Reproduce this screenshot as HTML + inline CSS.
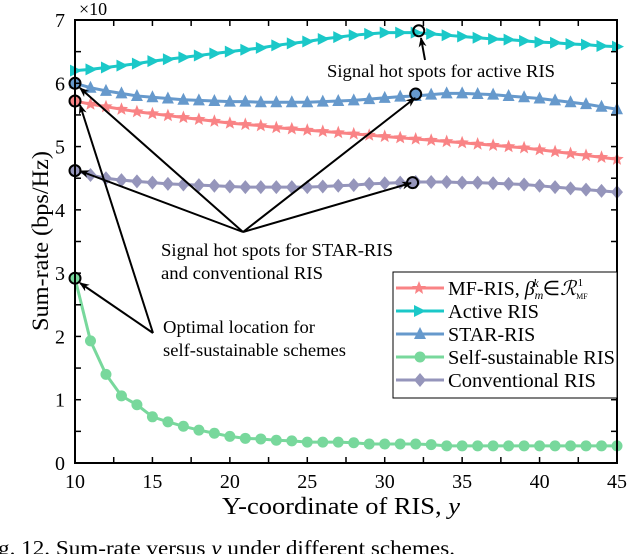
<!DOCTYPE html>
<html><head><meta charset="utf-8"><style>
html,body{margin:0;padding:0;background:#fff;width:628px;height:554px;overflow:hidden}
svg{display:block;font-family:"Liberation Serif",serif}
</style></head><body>
<svg id="chart" width="628" height="554" viewBox="0 0 628 554" xmlns="http://www.w3.org/2000/svg">
<defs><marker id="ah" markerWidth="10" markerHeight="8" refX="9" refY="4" orient="auto" markerUnits="userSpaceOnUse"><path d="M0,0 L10,4 L0,8 L3,4 Z" fill="#000"/></marker></defs>
<g id="grid"></g>
<g id="series"></g>
<g id="annot"></g>
<g id="axes"></g>
</svg>
<script>
const xVals=[10,11,12,13,14,15,16,17,18,19,20,21,22,23,24,25,26,27,28,29,30,31,32,33,34,35,36,37,38,39,40,41,42,43,44,45];
const activeRIS=[6.2,6.22,6.25,6.28,6.31,6.35,6.38,6.41,6.44,6.47,6.5,6.53,6.56,6.6,6.63,6.66,6.7,6.73,6.76,6.78,6.8,6.8,6.8,6.78,6.76,6.74,6.72,6.7,6.69,6.67,6.65,6.64,6.62,6.61,6.59,6.58];
const starRIS=[6.0,5.93,5.88,5.84,5.8,5.78,5.76,5.74,5.73,5.72,5.71,5.71,5.7,5.7,5.7,5.7,5.71,5.72,5.73,5.75,5.77,5.79,5.8,5.82,5.84,5.84,5.83,5.82,5.8,5.78,5.76,5.73,5.7,5.67,5.63,5.59];
const mfRIS=[5.72,5.67,5.63,5.59,5.55,5.52,5.49,5.46,5.43,5.4,5.37,5.35,5.33,5.3,5.28,5.26,5.24,5.22,5.2,5.18,5.16,5.14,5.12,5.1,5.08,5.06,5.04,5.02,5.0,4.98,4.95,4.92,4.89,4.86,4.83,4.8];
const convRIS=[4.62,4.55,4.5,4.47,4.45,4.43,4.41,4.4,4.39,4.38,4.37,4.36,4.36,4.36,4.36,4.36,4.37,4.38,4.39,4.41,4.42,4.43,4.44,4.44,4.44,4.43,4.43,4.42,4.41,4.4,4.38,4.36,4.34,4.32,4.3,4.28];
const selfRIS=[2.92,1.93,1.4,1.06,0.92,0.73,0.65,0.58,0.52,0.47,0.42,0.39,0.38,0.36,0.35,0.33,0.33,0.33,0.32,0.3,0.3,0.3,0.3,0.29,0.27,0.27,0.27,0.27,0.27,0.27,0.27,0.27,0.27,0.27,0.27,0.27];
const xTicks=[10,15,20,25,30,35,40,45];
const yTicks=[0,1,2,3,4,5,6,7];

const L=75,R=617,T=20,B=463;
const X=v=>L+(v-10)/35*(R-L);
const Y=v=>B-(v/7)*(B-T);
const NS="http://www.w3.org/2000/svg";
function mk(tag,attrs,parent){const e=document.createElementNS(NS,tag);for(const k in attrs)e.setAttribute(k,attrs[k]);parent.appendChild(e);return e;}
const sg=document.getElementById('series'),ax=document.getElementById('axes'),an=document.getElementById('annot');

function marker(type,x,y,color,g){
  let e;
  if(type==='tri-right'){e=mk('path',{d:`M${x-5},${y-6} L${x+7},${y} L${x-5},${y+6} Z`,fill:color},g);}
  else if(type==='tri-up'){e=mk('path',{d:`M${x},${y-7} L${x+6},${y+5} L${x-6},${y+5} Z`,fill:color},g);}
  else if(type==='circle'){e=mk('circle',{cx:x,cy:y,r:5.5,fill:color},g);}
  else if(type==='diamond'){e=mk('path',{d:`M${x},${y-7} L${x+6},${y} L${x},${y+7} L${x-6},${y} Z`,fill:color},g);}
  else {let p='';for(let i=0;i<10;i++){const a=-Math.PI/2+i*Math.PI/5;const r=i%2?3:7;p+=(i?'L':'M')+(x+r*Math.cos(a)).toFixed(1)+','+(y+r*Math.sin(a)).toFixed(1);}e=mk('path',{d:p+'Z',fill:color},g);}
  return e;
}
const series=[
 {name:'mf-ris-series',data:mfRIS,color:'#f98385',m:'star'},
 {name:'active-ris-series',data:activeRIS,color:'#1bc8c8',m:'tri-right'},
 {name:'star-ris-series',data:starRIS,color:'#6699cc',m:'tri-up'},
 {name:'self-sustainable-ris-series',data:selfRIS,color:'#78d89c',m:'circle'},
 {name:'conventional-ris-series',data:convRIS,color:'#9595bb',m:'diamond'}
];
series.forEach(s=>{
  const g=mk('g',{},sg);
  
  
  const pl=mk('polyline',{points:s.data.map((v,i)=>X(xVals[i])+','+Y(v)).join(' '),fill:'none',stroke:s.color,'stroke-width':3},g);
  
  
  s.data.forEach((v,i)=>{const e=marker(s.m,X(xVals[i]),Y(v),s.color,g);
    
    });
});

const box=mk('rect',{x:L,y:T,width:R-L,height:B-T,fill:'none',stroke:'#000','stroke-width':2},ax);


for(let v=10;v<=45;v+=2.5){const x=X(v);
  mk('line',{x1:x,y1:B,x2:x,y2:B-6,stroke:'#000','stroke-width':1.5},ax);
  mk('line',{x1:x,y1:T,x2:x,y2:T+6,stroke:'#000','stroke-width':1.5},ax);}
for(let v=0;v<=7;v+=0.5){const y=Y(v);
  mk('line',{x1:L,y1:y,x2:L+6,y2:y,stroke:'#000','stroke-width':1.5},ax);
  mk('line',{x1:R,y1:y,x2:R-6,y2:y,stroke:'#000','stroke-width':1.5},ax);}
xTicks.forEach(v=>{const t=mk('text',{x:X(v),y:B+25,'text-anchor':'middle','font-size':20},ax);t.textContent=v;
  
  });
yTicks.forEach(v=>{const t=mk('text',{x:L-10,y:Y(v)+7,'text-anchor':'end','font-size':20},ax);t.textContent=v;
  
  });

const circles=[[10,6.0,'#6699cc'],[10,5.72,'#f98385'],[10,4.62,'#9595bb'],[10,2.92,'#78d89c'],[32.2,6.83,'none'],[32,5.83,'#6699cc'],[31.8,4.43,'#9595bb']];
circles.forEach(c=>{const e=mk('circle',{cx:X(c[0]),cy:Y(c[1]),r:5.5,fill:c[2],stroke:'#000','stroke-width':2},an);
  
  });
const arrows=[[243,232,80,88],[243,232,80,171],[243,232,415,98],[243,232,411,183],[153,333,80,105],[153,333,80,283],[425,60,421,38]];
arrows.forEach(a=>{const e=mk('line',{x1:a[0],y1:a[1],x2:a[2],y2:a[3],stroke:'#000','stroke-width':2,'marker-end':'url(#ah)'},an);
  
  });
</script>
<svg style="position:absolute;left:0;top:0" width="628" height="554" xmlns="http://www.w3.org/2000/svg" font-family="Liberation Serif, serif">
<text x="79" y="15" font-size="18">×10</text>
<text transform="translate(48,241) rotate(-90)" text-anchor="middle" font-size="23" textLength="180" lengthAdjust="spacingAndGlyphs">Sum-rate (bps/Hz)</text>
<text x="222" y="514" font-size="24" textLength="238" lengthAdjust="spacingAndGlyphs">Y-coordinate of RIS, <tspan font-style="italic">y</tspan></text>
<text x="-2" y="555" font-size="21" textLength="457" lengthAdjust="spacingAndGlyphs">g. 12.  Sum-rate versus <tspan font-style="italic">y</tspan> under different schemes.</text>
<text x="327" y="77" font-size="18" textLength="228" lengthAdjust="spacingAndGlyphs">Signal hot spots for active RIS</text>
<text font-size="18"><tspan x="161" y="256" textLength="232" lengthAdjust="spacingAndGlyphs">Signal hot spots for STAR-RIS</tspan><tspan x="161" y="279" textLength="162" lengthAdjust="spacingAndGlyphs">and conventional RIS</tspan></text>
<text font-size="18"><tspan x="163" y="333" textLength="152" lengthAdjust="spacingAndGlyphs">Optimal location for</tspan><tspan x="163" y="356" textLength="183" lengthAdjust="spacingAndGlyphs">self-sustainable schemes</tspan></text>
<g>
<rect x="393" y="272" width="224" height="126" fill="#fff" stroke="#000" stroke-width="1"/>
<g><line x1="396" y1="288" x2="444" y2="288" stroke="#f98385" stroke-width="3"/><path d="M419,281 L421,286 L426,286 L422,289 L423,294 L419,291 L415,294 L416,289 L412,286 L417,286 Z" fill="#f98385"/><text x="448" y="295" font-size="20">MF-RIS, <tspan font-style="italic">β</tspan><tspan font-style="italic" font-size="12" dy="4">m</tspan><tspan font-style="italic" font-size="12" dx="-10" dy="-12">k</tspan><tspan dy="8" dx="4">∈</tspan><tspan font-style="italic">ℛ</tspan><tspan font-size="8" dy="4">MF</tspan><tspan font-size="11" dx="-10" dy="-13">1</tspan></text></g>
<g><line x1="396" y1="311" x2="444" y2="311" stroke="#1bc8c8" stroke-width="3"/><path d="M414,305 L426,311 L414,317 Z" fill="#1bc8c8"/><text x="448" y="318" font-size="20" textLength="91" lengthAdjust="spacingAndGlyphs">Active RIS</text></g>
<g><line x1="396" y1="334" x2="444" y2="334" stroke="#6699cc" stroke-width="3"/><path d="M420,327 L426,339 L414,339 Z" fill="#6699cc"/><text x="448" y="341" font-size="20">STAR-RIS</text></g>
<g><line x1="396" y1="357" x2="444" y2="357" stroke="#78d89c" stroke-width="3"/><circle cx="420" cy="357" r="5.5" fill="#78d89c"/><text x="448" y="364" font-size="20" textLength="167" lengthAdjust="spacingAndGlyphs">Self-sustainable RIS</text></g>
<g><line x1="396" y1="380" x2="444" y2="380" stroke="#9595bb" stroke-width="3"/><path d="M420,373 L426,380 L420,387 L414,380 Z" fill="#9595bb"/><text x="448" y="387" font-size="20" textLength="148" lengthAdjust="spacingAndGlyphs">Conventional RIS</text></g>
</g>
</svg>
</body></html>
